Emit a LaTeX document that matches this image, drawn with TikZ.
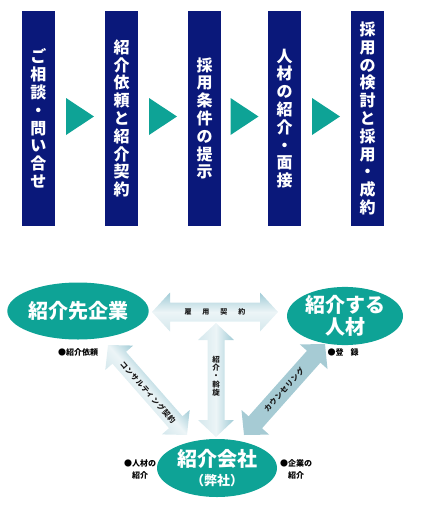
\documentclass[tikz,border=0pt]{standalone}
\usepackage{fontspec}
\setmainfont{Noto Sans CJK JP}
\usetikzlibrary{calc,shapes.geometric}
\definecolor{navy}{RGB}{10,24,122}
\definecolor{tealc}{RGB}{14,163,150}
\definecolor{arrblue}{RGB}{160,203,214}
\definecolor{arrdark}{RGB}{166,203,212}
\definecolor{lblc}{RGB}{25,25,25}
% double arrow between two named coordinates
\newcommand\dblarr[6]{%
  \path ($(#2)-(#1)$); \pgfgetlastxy{\arrdx}{\arrdy}%
  \pgfmathsetmacro\arrlen{veclen(\arrdx,\arrdy)}%
  \pgfmathsetmacro\arrang{atan2(\arrdy,\arrdx)}%
  \begin{scope}[transform canvas={shift={(#1)},rotate=\arrang}]
    \shade[#6] (0,0) -- (#5,#4) -- (#5,#3) -- (\arrlen-#5,#3) -- (\arrlen-#5,#4)
      -- (\arrlen,0) -- (\arrlen-#5,-#4) -- (\arrlen-#5,-#3) -- (#5,-#3) -- (#5,-#4) -- cycle;
  \end{scope}}
\begin{document}
\begin{tikzpicture}[x=1pt,y=-1pt,
  bar/.style={fill=navy,text=white,minimum width=33pt,minimum height=215pt,inner sep=0pt,
    align=center,font=\fontsize{16}{17.8}\selectfont\bfseries},
  tri/.style={fill=tealc},
  oval/.style={ellipse,fill=tealc,text=white,inner sep=0pt,align=center,
    font=\fontsize{20}{22}\selectfont\bfseries},
  lbl/.style={text=lblc,font=\fontsize{8}{8.4}\selectfont\bfseries,inner sep=0pt,align=center},
  dlbl/.style={lbl,font=\fontsize{7.4}{8}\selectfont\bfseries\addfontfeature{LetterSpace=9}},
  note/.style={text=black,font=\fontsize{8}{12}\selectfont\bfseries,inner sep=0pt,align=left},
  lightarr/.style={top color=arrblue,bottom color=arrblue!45!white,middle color=white!80!arrblue},
  darkarr/.style={top color=arrdark,bottom color=arrdark},
]
\useasboundingbox (0,0) rectangle (429,517);

% ---- process flow ----
\node[bar] (b1) at (38.5,118.5) {ご\\相\\談\\・\\問\\い\\合\\せ};
\node[bar] (b2) at (121.5,118.5) {紹\\介\\依\\頼\\と\\紹\\介\\契\\約};
\node[bar] (b3) at (204.5,118.5) {採\\用\\条\\件\\の\\提\\示};
\node[bar] (b4) at (284.5,118.5) {人\\材\\の\\紹\\介\\・\\面\\接};
\node[bar] (b5) at (367.5,118.5) {採\\用\\の\\検\\討\\と\\採\\用\\・\\成\\約};

\foreach \a/\b/\n in {b1/b2/t1,b2/b3/t2,b3/b4/t3,b4/b5/t4}{
  \coordinate (\n) at ($(\a.east)!.5!(\b.west)+(0,-2)$);
  \fill[tri] ($(\n)+(-14,-18.5)$) -- ($(\n)+(14,0)$) -- ($(\n)+(-14,18.5)$) -- cycle;
}

% ---- relation diagram ----
\coordinate (h1) at (152,312); \coordinate (h2) at (278,312);
\coordinate (v1) at (216,323); \coordinate (v2) at (216,437);
\coordinate (l1) at (108,345); \coordinate (l2) at (187,435);
\coordinate (r1) at (244,435); \coordinate (r2) at (325,344);

\dblarr{v1}{v2}{8.5}{18}{17}{lightarr}
\dblarr{h1}{h2}{9.5}{19.5}{18}{lightarr}
\dblarr{l1}{l2}{9}{18.5}{17}{lightarr}
\dblarr{r1}{r2}{9}{18.5}{17}{darkarr}

\node[oval,minimum width=114pt,minimum height=57pt] (firm) at (78,311) {紹介先企業};
\node[oval,minimum width=116pt,minimum height=58pt] (talent) at (345,316) {紹介する\\人材};
\node[oval,minimum width=120pt,minimum height=58pt] (agency) at (217,468)
  {紹介会社\\[-3pt]{\fontsize{13}{15}\selectfont （弊社）}};

\node[lbl,font=\fontsize{7}{8}\selectfont\bfseries] (hl) at ($(h1)!.5!(h2)$)
  {雇\hspace{11pt}用\hspace{11pt}契\hspace{11pt}約};
\node[lbl,font=\fontsize{7.5}{8.4}\selectfont\bfseries] (vl) at (216,376) {紹\\介\\・\\斡\\旋};
\node[dlbl,rotate=-48.7] (ll) at (148,392) {コンサルティング契約};
\node[dlbl,rotate=48.3] (rl) at (284,390) {カウンセリング};

\node[note] (n1) at (78,352) {●紹介依頼};
\node[note] (n2) at (343,352) {●登\hspace{7pt}録};
\node[note] (n3) at (140,469) {●人材の\\\phantom{●}紹介};
\node[note] (n4) at (296,469) {●企業の\\\phantom{●}紹介};
\end{tikzpicture}
\end{document}
